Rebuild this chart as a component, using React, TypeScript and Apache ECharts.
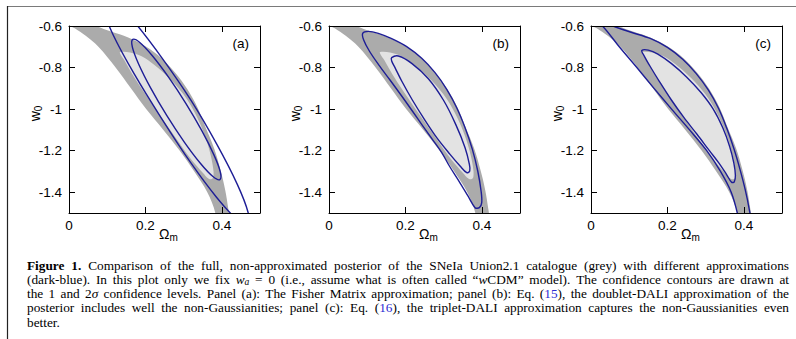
import React, { useEffect, useRef } from 'react';
import * as echarts from 'echarts';

// ---------------- data (Ωm, w0) ----------------
const X_TICKS = [0.2, 0.4];
const X_LABELS = [0, 0.2, 0.4];
const Y_TICKS = [-1.4, -1.2, -1, -0.8];
const Y_LABELS = [-1.4, -1.2, -1, -0.8, -0.6];
const PANEL_TAGS = ['(a)', '(b)', '(c)'];

// full posterior (grey), 2σ and 1σ regions — same in every panel
const POSTERIOR_2SIGMA: number[][] = [
  [-0.06, -0.5], [0.0, -0.54], [0.038, -0.572], [0.072, -0.6], [0.11, -0.627],
  [0.155, -0.655], [0.2, -0.697], [0.243, -0.756], [0.278, -0.825],
  [0.31, -0.905], [0.337, -0.995], [0.358, -1.09], [0.38, -1.19], [0.396, -1.29],
  [0.409, -1.39], [0.417, -1.48], [0.423, -1.56], [0.427, -1.62], [0.39, -1.62],
  [0.383, -1.5], [0.362, -1.4], [0.328, -1.3], [0.29, -1.2], [0.247, -1.1],
  [0.202, -1.0], [0.162, -0.9], [0.122, -0.8], [0.077, -0.7], [0.042, -0.645],
  [0.016, -0.612], [0.0, -0.598], [-0.06, -0.55],
];
const POSTERIOR_1SIGMA: number[][] = [
  [0.1336, -0.725], [0.16, -0.727], [0.19, -0.745], [0.222, -0.785], [0.262, -0.85],
  [0.3, -0.93], [0.33, -1.02], [0.352, -1.11], [0.368, -1.2], [0.377, -1.28],
  [0.378, -1.325], [0.372, -1.338], [0.362, -1.33], [0.352, -1.31], [0.319, -1.24],
  [0.28, -1.14], [0.238, -1.03], [0.197, -0.92], [0.165, -0.83], [0.145, -0.765],
  [0.135, -0.737],
];

// panel (a): Fisher matrix ellipses
const FISHER_1SIGMA: number[][] = [
  [0.395, -1.3392], [0.3767, -1.3246], [0.3438, -1.2607], [0.3014, -1.1576],
  [0.2558, -1.0306], [0.214, -0.8991], [0.1825, -0.7838], [0.1659, -0.7014],
  [0.1669, -0.6647], [0.1853, -0.6793], [0.2182, -0.7432], [0.2606, -0.8463],
  [0.3062, -0.9733], [0.348, -1.1048], [0.3794, -1.2201], [0.3961, -1.3025],
];
const FISHER_2SIGMA: number[][] = [
  [0.4682, -1.5552], [0.4392, -1.5299], [0.3861, -1.4242], [0.3172, -1.2543],
  [0.2425, -1.0458], [0.1707, -0.8306], [0.1154, -0.6418], [0.0873, -0.5076],
  [0.0878, -0.4487], [0.1168, -0.474], [0.1708, -0.5797], [0.2418, -0.7496],
  [0.3195, -0.9581], [0.3882, -1.1733], [0.4406, -1.3621], [0.4687, -1.4963],
];

// panel (b): doublet-DALI
const DALI2_2SIGMA: number[][] = [
  [0.0882, -0.6353], [0.103, -0.6257], [0.1292, -0.6353], [0.1641, -0.661],
  [0.2034, -0.6995], [0.2427, -0.7556], [0.2776, -0.8246], [0.3082, -0.9048],
  [0.3343, -0.9931], [0.3562, -1.0893], [0.3754, -1.1936], [0.3894, -1.2979],
  [0.3981, -1.3941], [0.3998, -1.4503], [0.3937, -1.4743], [0.3824, -1.4743],
  [0.3649, -1.4214], [0.3405, -1.3476], [0.3151, -1.2738], [0.2951, -1.2096],
  [0.2706, -1.1455], [0.2444, -1.0781], [0.2182, -1.0091], [0.1903, -0.9369],
  [0.1597, -0.8599], [0.1292, -0.7845], [0.1056, -0.7203], [0.0908, -0.6674],
];
const DALI2_1SIGMA: number[][] = [
  [0.1641, -0.7524], [0.1816, -0.7444], [0.2165, -0.7797], [0.2601, -0.8535],
  [0.2994, -0.9562], [0.3317, -1.0733], [0.3562, -1.1856], [0.3675, -1.2658],
  [0.3684, -1.2979], [0.3606, -1.3059], [0.3431, -1.2738], [0.3169, -1.2177],
  [0.282, -1.1374], [0.2497, -1.0492], [0.2182, -0.9562], [0.1903, -0.8647],
  [0.1728, -0.8005], [0.1641, -0.7684],
];

// panel (c): triplet-DALI
const DALI3_2SIGMA: number[][] = [
  [0.012, -0.556], [0.058, -0.6], [0.105, -0.63], [0.155, -0.66], [0.2, -0.703],
  [0.24, -0.76], [0.275, -0.828], [0.307, -0.908], [0.334, -0.997], [0.355, -1.09],
  [0.374, -1.19], [0.39, -1.29], [0.404, -1.39], [0.414, -1.48], [0.42, -1.56],
  [0.41, -1.62], [0.39, -1.58], [0.383, -1.5], [0.367, -1.4], [0.339, -1.3],
  [0.303, -1.2], [0.258, -1.1], [0.211, -1.0], [0.165, -0.9], [0.12, -0.8],
  [0.074, -0.7], [0.03, -0.6], [0.004, -0.565],
];
const DALI3_1SIGMA: number[][] = [
  [0.133, -0.718], [0.15, -0.716], [0.175, -0.735], [0.21, -0.78], [0.25, -0.845],
  [0.288, -0.92], [0.32, -1.0], [0.345, -1.09], [0.363, -1.18], [0.374, -1.26],
  [0.378, -1.32], [0.375, -1.35], [0.368, -1.352], [0.355, -1.315], [0.335, -1.26],
  [0.31, -1.2], [0.277, -1.12], [0.243, -1.04], [0.21, -0.955], [0.18, -0.87],
  [0.155, -0.795], [0.138, -0.74],
];

const CAPTION_LINES = [
  '!Figure! !1.! Comparison of the full, non-approximated posterior of the SNeIa Union2.1 catalogue (grey) with different approximations',
  '(dark-blue). In this plot only we fix *w*_a_ = 0 (i.e., assume what is often called “*w*CDM” model). The confidence contours are drawn at',
  'the 1 and 2*σ* confidence levels. Panel (a): The Fisher Matrix approximation; panel (b): Eq. (#15#), the doublet-DALI approximation of the',
  'posterior includes well the non-Gaussianities; panel (c): Eq. (#16#), the triplet-DALI approximation captures the non-Gaussianities even',
  'better.',
];

// ---------------- layout / style ----------------
const SANS = '"Liberation Sans", Arial, Helvetica, sans-serif';
const SERIF = '"Liberation Serif", "Times New Roman", serif';
const BLUE = '#1d1d96';
const DARK_GREY = '#ababab';
const LIGHT_GREY = '#e3e3e3';
const GRID_LEFT = [69, 329, 591];
const GRID_TOP = 26;
const GRID_W = 191;
const GRID_H = 187;
const AX_FS = 13.5;
const CAP_X = 27;
const CAP_W = 762;
const CAP_Y0 = 265;
const CAP_DY = 14.25;
const CAP_FS = 13.3;

type Frag = { t: string; k: string };
function parseWord(w: string): Frag[] {
  return w
    .split(/(\*[^*]+\*|_[^_]+_|#[^#]+#|![^!]+!)/)
    .filter((p) => p.length > 0)
    .map((p) => {
      const c = p[0];
      if (p.length > 2 && p[p.length - 1] === c) {
        if (c === '*') return { t: p.slice(1, -1), k: 'i' };
        if (c === '_') return { t: p.slice(1, -1), k: 's' };
        if (c === '#') return { t: p.slice(1, -1), k: 'c' };
        if (c === '!') return { t: p.slice(1, -1), k: 'b' };
      }
      return { t: p, k: 'n' };
    });
}

function captionElements(): any[] {
  const canvas = document.createElement('canvas');
  const ctx = canvas.getContext('2d')!;
  const fonts: Record<string, string> = {
    n: `${CAP_FS}px ${SERIF}`,
    b: `bold ${CAP_FS}px ${SERIF}`,
    i: `italic ${CAP_FS}px ${SERIF}`,
    s: `italic ${CAP_FS * 0.72}px ${SERIF}`,
    c: `${CAP_FS}px ${SERIF}`,
  };
  const colors: Record<string, string> = { n: '#000', b: '#000', i: '#000', s: '#000', c: '#2a2ad2' };
  const measure = (t: string, k: string) => {
    ctx.font = fonts[k];
    return ctx.measureText(t).width;
  };
  const space = measure(' ', 'n');
  const els: any[] = [];
  CAPTION_LINES.forEach((line, li) => {
    const words = line.split(' ').map(parseWord);
    const widths = words.map((frs) => frs.reduce((a, f) => a + measure(f.t, f.k), 0));
    const total = widths.reduce((a, b) => a + b, 0);
    const last = li === CAPTION_LINES.length - 1;
    const gap = last || words.length < 2 ? space : (CAP_W - total) / (words.length - 1);
    let x = CAP_X;
    const y = CAP_Y0 + li * CAP_DY;
    words.forEach((frs, wi) => {
      let fx = x;
      frs.forEach((f) => {
        els.push({
          type: 'text',
          x: fx,
          y: y + (f.k === 's' ? 2.5 : 0),
          silent: true,
          style: {
            text: f.t,
            font: fonts[f.k],
            fill: colors[f.k],
            textAlign: 'left',
            textVerticalAlign: 'middle',
          },
        });
        fx += measure(f.t, f.k);
      });
      x += widths[wi] + gap;
    });
  });
  return els;
}

function shapeSeries(pts: number[][], panel: number, fill: string, stroke: string) {
  return {
    type: 'custom',
    xAxisIndex: panel * 2,
    yAxisIndex: panel * 2,
    clip: true,
    silent: true,
    z: 2,
    data: pts,
    encode: { x: 0, y: 1 },
    renderItem: (params: any, api: any) => {
      if (params.dataIndex !== 0) return null;
      const points = pts.map((p) => api.coord(p));
      return {
        type: 'polygon',
        shape: { points, smooth: 0.35 },
        style: {
          fill,
          stroke,
          lineWidth: stroke === 'none' ? 0 : 1.4,
        },
      };
    },
  };
}

function buildOption(): any {
  const panels = [
    { inner: FISHER_1SIGMA, outer: FISHER_2SIGMA },
    { inner: DALI2_1SIGMA, outer: DALI2_2SIGMA },
    { inner: DALI3_1SIGMA, outer: DALI3_2SIGMA },
  ];
  const axisLine = { show: true, onZero: false, lineStyle: { color: '#000', width: 1 } };
  const xAxes: any[] = [];
  const yAxes: any[] = [];
  const series: any[] = [];
  const graphics: any[] = [];

  GRID_LEFT.forEach((left, i) => {
    const xTick = { show: true, inside: true, length: 6, customValues: X_TICKS, lineStyle: { color: '#000', width: 1 } };
    const yTick = { show: true, inside: true, length: 6, customValues: Y_TICKS, lineStyle: { color: '#000', width: 1 } };
    xAxes.push({
      type: 'value', gridIndex: i, position: 'bottom', min: 0, max: 0.5, z: 5,
      axisLine, axisTick: xTick, splitLine: { show: false },
      axisLabel: {
        show: true, customValues: X_LABELS, formatter: (v: number) => String(v),
        margin: 5, color: '#000', fontFamily: SANS, fontSize: AX_FS,
      },
      name: '{o|Ω}{s|m}', nameLocation: 'middle', nameGap: 13, nameMoveOverlap: false,
      nameTextStyle: {
        color: '#000', fontFamily: SANS, padding: [0, 0, 0, 8],
        rich: {
          o: { fontSize: 14, fontFamily: SANS, color: '#000', lineHeight: 16 },
          s: { fontSize: 10, fontFamily: SANS, color: '#000', lineHeight: 16, padding: [6, 0, 0, 0] },
        },
      },
    });
    xAxes.push({
      type: 'value', gridIndex: i, position: 'top', min: 0, max: 0.5, z: 5,
      axisLine, axisTick: xTick, axisLabel: { show: false }, splitLine: { show: false },
    });
    yAxes.push({
      type: 'value', gridIndex: i, position: 'left', min: -1.5, max: -0.6, z: 5,
      axisLine, axisTick: yTick, splitLine: { show: false },
      axisLabel: {
        show: true, customValues: Y_LABELS, formatter: (v: number) => String(v),
        margin: 7, color: '#000', fontFamily: SANS, fontSize: AX_FS,
      },
      name: '{w|w}{s|0}', nameLocation: 'middle', nameGap: 26, nameRotate: 90, nameMoveOverlap: false,
      nameTextStyle: {
        color: '#000', fontFamily: SANS, padding: [0, 0, 0, 12],
        rich: {
          w: { fontSize: 14, fontFamily: SANS, color: '#000', lineHeight: 16 },
          s: { fontSize: 10, fontFamily: SANS, color: '#000', lineHeight: 16, padding: [6, 0, 0, 0] },
        },
      },
    });
    yAxes.push({
      type: 'value', gridIndex: i, position: 'right', min: -1.5, max: -0.6, z: 5,
      axisLine, axisTick: yTick, axisLabel: { show: false }, splitLine: { show: false },
    });

    series.push(shapeSeries(POSTERIOR_2SIGMA, i, DARK_GREY, 'none'));
    series.push(shapeSeries(POSTERIOR_1SIGMA, i, LIGHT_GREY, 'none'));
    series.push(shapeSeries(panels[i].outer, i, 'none', BLUE));
    series.push(shapeSeries(panels[i].inner, i, 'none', BLUE));

    graphics.push({
      type: 'text', x: left + GRID_W - 11, y: 43, silent: true,
      style: {
        text: PANEL_TAGS[i], font: `${AX_FS}px ${SANS}`, fill: '#000',
        textAlign: 'right', textVerticalAlign: 'middle',
      },
    });
  });

  graphics.push({
    type: 'line', silent: true,
    shape: { x1: 7, y1: 6.5, x2: 796, y2: 6.5 },
    style: { stroke: '#7a7a7a', lineWidth: 1 },
  });
  graphics.push({
    type: 'line', silent: true,
    shape: { x1: 7.5, y1: 6, x2: 7.5, y2: 339 },
    style: { stroke: '#222', lineWidth: 1.2 },
  });
  graphics.push(...captionElements());

  return {
    animation: false,
    backgroundColor: '#fff',
    grid: GRID_LEFT.map((left) => ({
      left, top: GRID_TOP, width: GRID_W, height: GRID_H,
      containLabel: false, outerBoundsMode: 'none', show: false,
    })),
    xAxis: xAxes,
    yAxis: yAxes,
    series,
    graphic: { elements: graphics },
  };
}

export default function App() {
  const ref = useRef<HTMLDivElement>(null);
  useEffect(() => {
    if (!ref.current) return;
    const chart = echarts.init(ref.current, null, { renderer: 'svg' });
    chart.setOption(buildOption());
    return () => chart.dispose();
  }, []);
  return (
    <div
      ref={ref}
      style={{ position: 'absolute', left: 0, top: 0, width: 796, height: 339, background: '#fff' }}
    />
  );
}
